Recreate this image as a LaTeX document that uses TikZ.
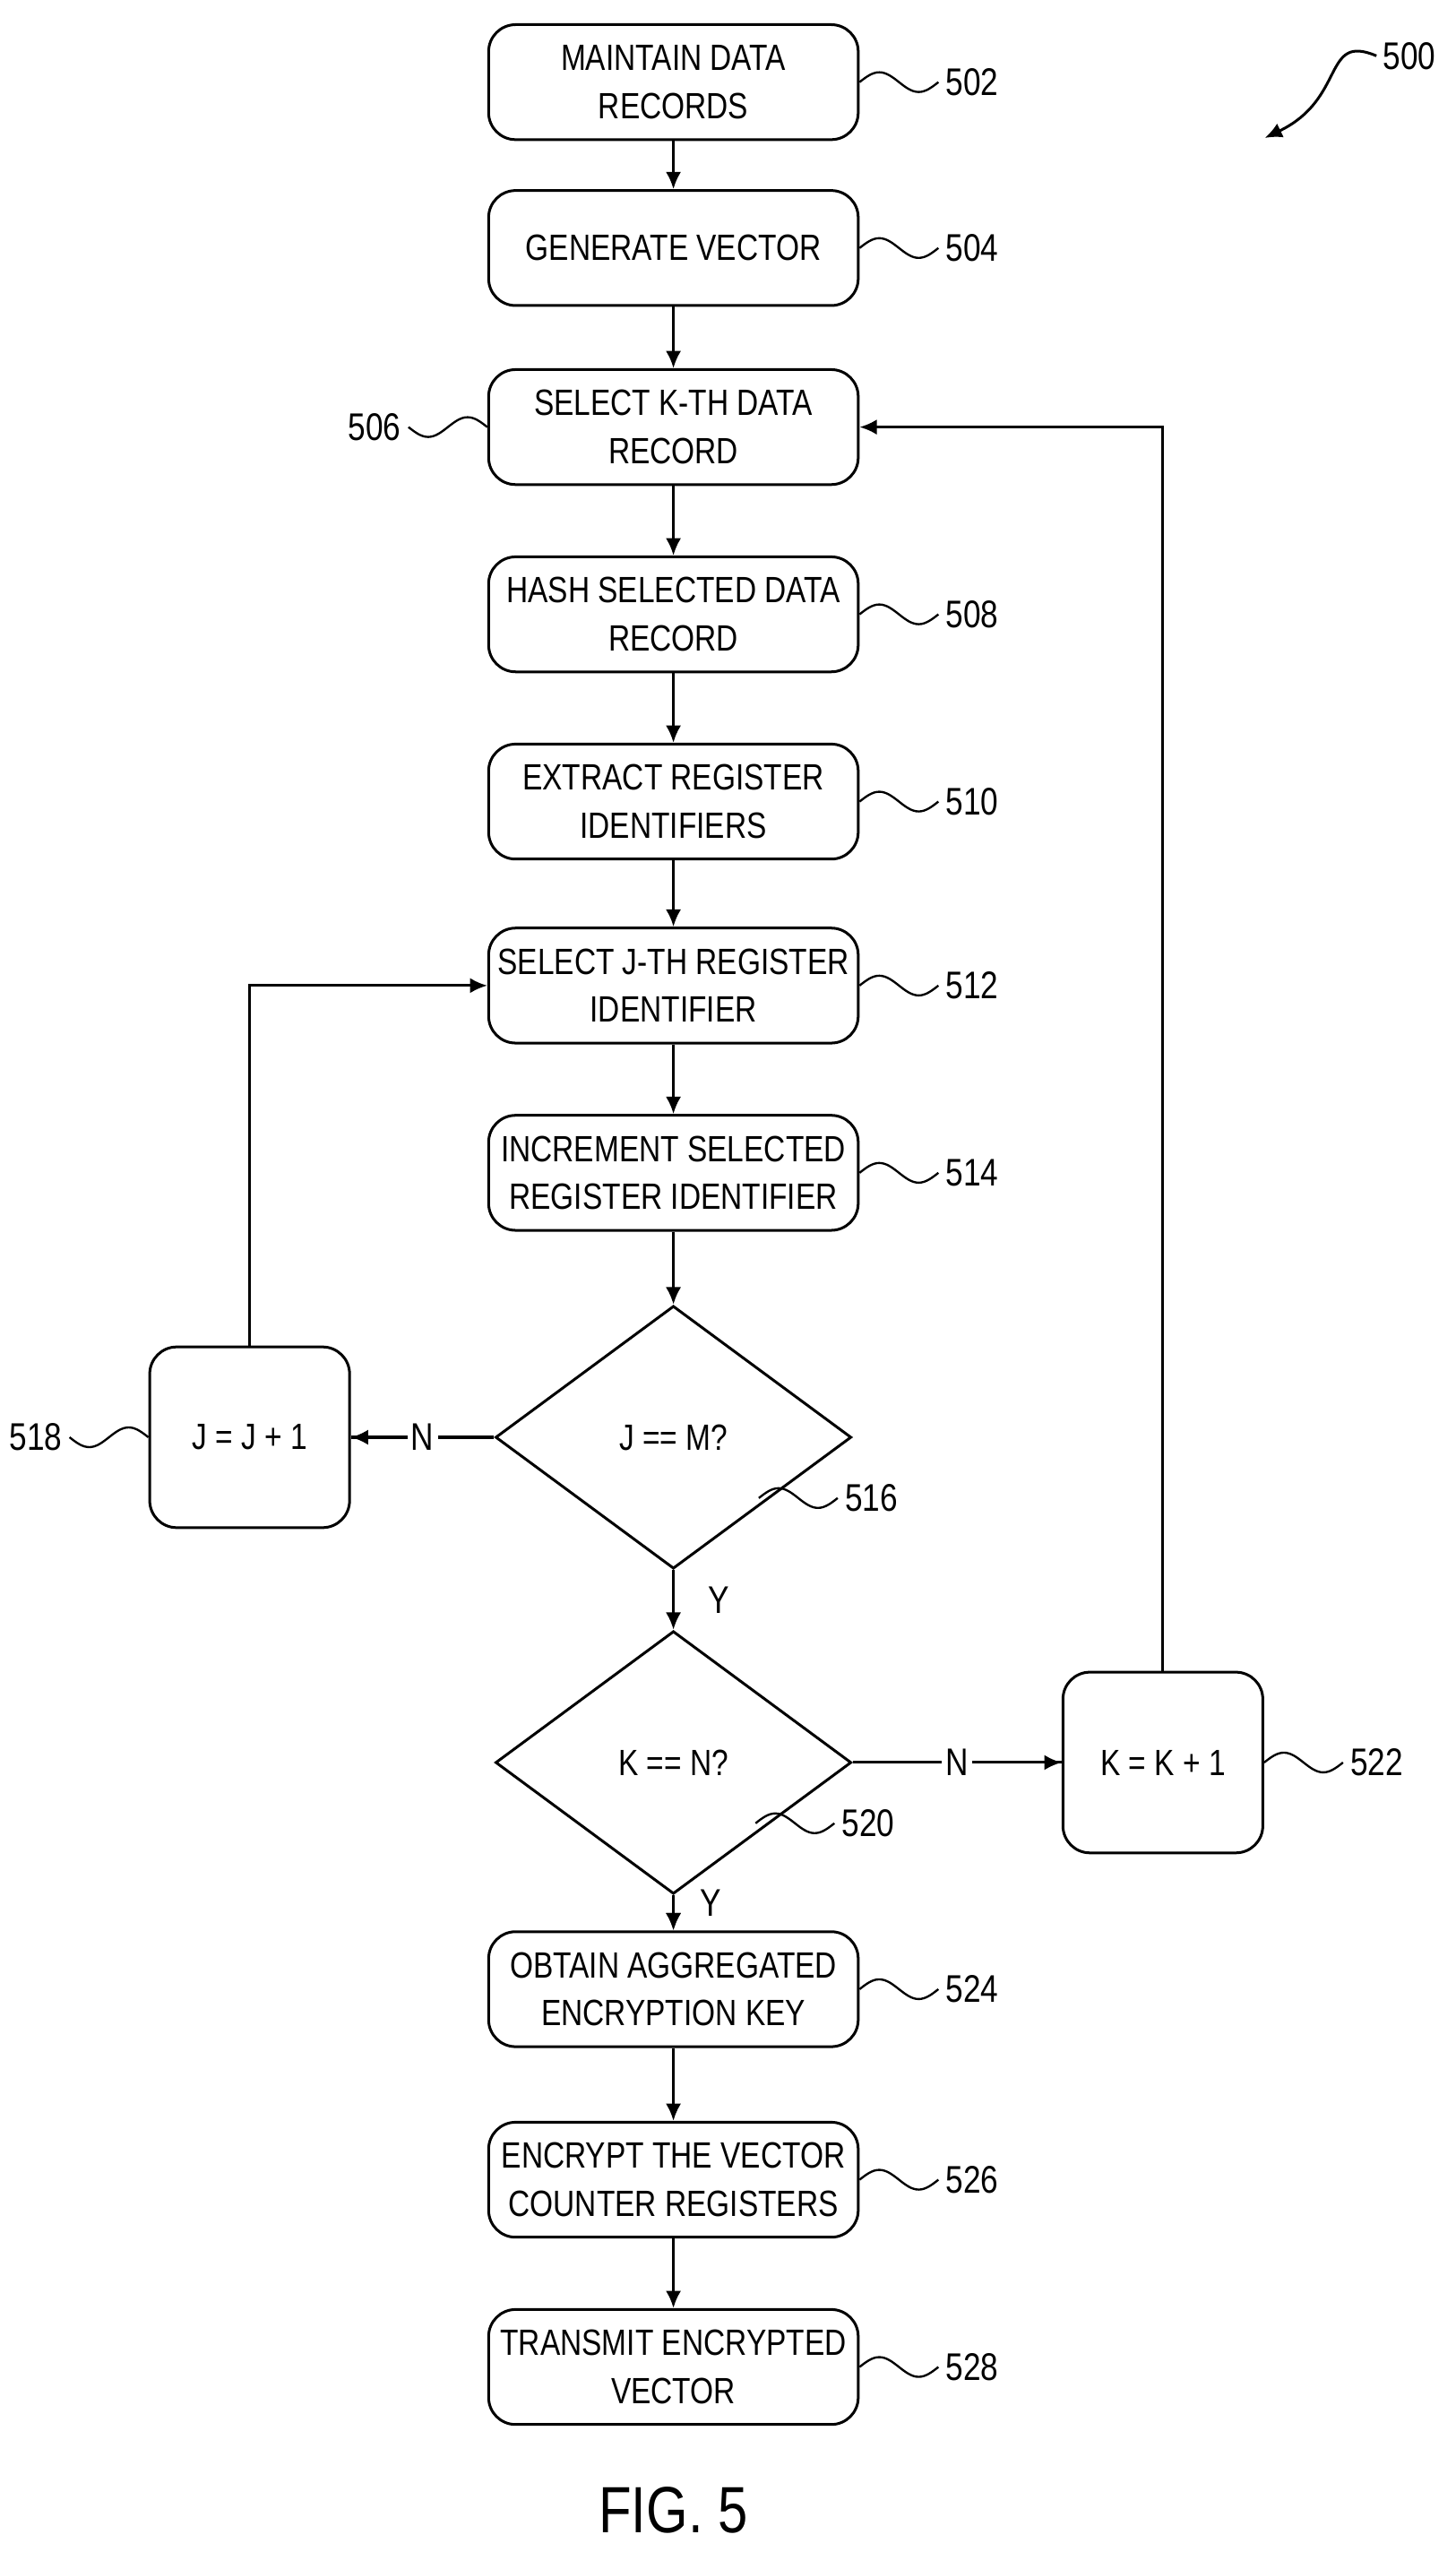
\documentclass[tikz,border=0pt]{standalone}
\usepackage{fontspec}
\setmainfont{Liberation Sans}[FakeStretch=0.82]
\usetikzlibrary{arrows.meta}
\usetikzlibrary{shapes.geometric}

\tikzset{
  proc/.style={draw, line width=1.4pt, rounded corners=14pt, minimum width=6.75cm,
    minimum height=2.1cm, align=center, font=\fontsize{19}{25}\selectfont},
  small/.style={proc, minimum width=3.65cm, minimum height=3.3cm},
  test/.style={draw, line width=1.4pt, diamond, aspect=1.35, minimum width=6.5cm,
    minimum height=4.8cm, font=\fontsize{19}{25}\selectfont},
  flow/.style={line width=1.4pt, -{Latex[length=9pt,width=8pt]}},
  lead/.style={line width=1.1pt},
  tag/.style={font=\fontsize{20}{24}\selectfont},
}

\begin{document}
\begin{tikzpicture}[x=0.03cm, y=-0.03cm]
  \useasboundingbox (0,0) rectangle (886,1564);

  \node[proc] (s502) at (410,50) {MAINTAIN DATA\\RECORDS};
  \node[proc] (s504) at (410,151) {GENERATE VECTOR};
  \node[proc] (s506) at (410,260) {SELECT K-TH DATA\\RECORD};
  \node[proc] (s508) at (410,374) {HASH SELECTED DATA\\RECORD};
  \node[proc] (s510) at (410,488) {EXTRACT REGISTER\\IDENTIFIERS};
  \node[proc] (s512) at (410,600) {SELECT J-TH REGISTER\\IDENTIFIER};
  \node[proc] (s514) at (410,714) {INCREMENT SELECTED\\REGISTER IDENTIFIER};
  \node[test] (t516) at (410,875) {J == M?};
  \node[small] (s518) at (152,875) {J = J + 1};
  \node[test] (t520) at (410,1073) {K == N?};
  \node[small] (s522) at (708,1073) {K = K + 1};
  \node[proc] (s524) at (410,1211) {OBTAIN AGGREGATED\\ENCRYPTION KEY};
  \node[proc] (s526) at (410,1327) {ENCRYPT THE VECTOR\\COUNTER REGISTERS};
  \node[proc] (s528) at (410,1441) {TRANSMIT ENCRYPTED\\VECTOR};

  \node[font=\fontsize{34}{40}\selectfont] (fig) at (410,1528) {FIG. 5};

  % main chain
  \foreach \a/\b in {s502/s504, s504/s506, s506/s508, s508/s510, s510/s512,
                     s512/s514, s514/t516, t520/s524, s524/s526, s526/s528}
    \draw[flow] (\a) -- (\b);

  \draw[flow] (t516) -- node[tag, right, xshift=14pt] {Y} (t520);

  % loops
  \draw[line width=1.4pt] (t516.west) -- node[tag, fill=white, inner sep=2pt] (n1) {N} (s518.east);
  \draw[flow] (n1.west) -- (s518.east);
  \draw[flow] (s518.north) |- (s512.west);
  \draw[line width=1.4pt] (t520.east) -- node[tag, fill=white, inner sep=2pt] (n2) {N} (s522.west);
  \draw[flow] (n2.east) -- (s522.west);
  \draw[flow] (s522.north) |- (s506.east);
  \draw[flow] (t520.south) -- node[tag, right, xshift=10pt, yshift=5pt] {Y} (s524);

  % reference numerals
  \foreach \n/\t in {s502/502, s504/504, s508/508, s510/510, s512/512,
                     s514/514, s522/522, s524/524, s526/526, s528/528}
    \draw[lead] (\n.east) sin ++(12,-6) cos ++(12,6) sin ++(12,6) cos ++(12,-6)
      node[tag, right] {\t};
  \foreach \n/\t in {s506/506, s518/518}
    \draw[lead] (\n.west) sin ++(-12,-6) cos ++(-12,6) sin ++(-12,6) cos ++(-12,-6)
      node[tag, left] {\t};
  \draw[lead] (462,912) sin ++(12,-6) cos ++(12,6) sin ++(12,6) cos ++(12,-6)
    node[tag, right] {516};
  \draw[lead] (460,1110) sin ++(12,-6) cos ++(12,6) sin ++(12,6) cos ++(12,-6)
    node[tag, right] {520};

  \coordinate (c500) at (838,34);
  \node[tag, right] (l500) at (c500) {500};
  \draw[flow] (c500) .. controls (805,20) and (820,60) .. (770,84);
\end{tikzpicture}
\end{document}
